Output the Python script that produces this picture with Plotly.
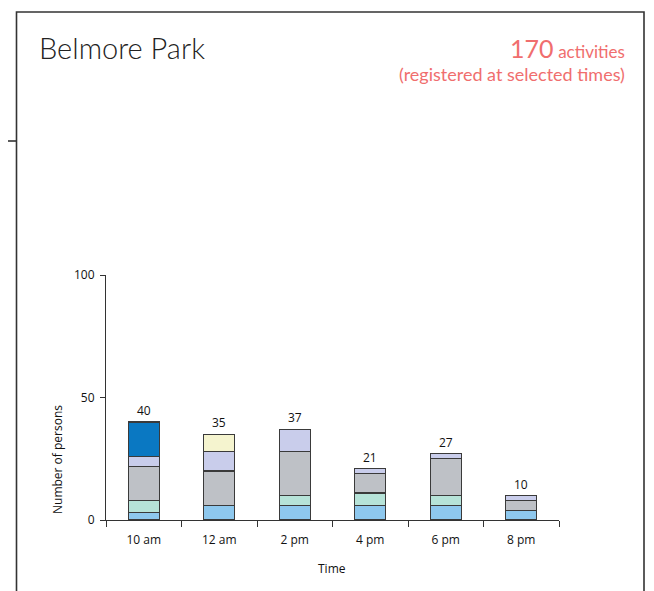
import plotly.graph_objects as go

# ---- data ----
times = ["10 am", "12 am", "2 pm", "4 pm", "6 pm", "8 pm"]
light_blue = [3, 6, 6, 6, 6, 4]
teal = [5, 0, 4, 5, 4, 0]
grey = [14, 14, 18, 8, 15, 4]
lavender = [4, 8, 9, 2, 2, 2]
yellow = [0, 7, 0, 0, 0, 0]
dark_blue = [14, 0, 0, 0, 0, 0]
series_names = ["Group 1", "Group 2", "Group 3", "Group 4", "Group 5", "Group 6"]
y_ticks = [0, 50, 100]
title_text = "Belmore Park"
total_activities = 170

series = [light_blue, teal, grey, lavender, yellow, dark_blue]
colors = ["#8EC8EE", "#B6E3D8", "#BEC1C6", "#C9CDEB", "#F5F4CF", "#0A78C2"]
totals = [sum(v) for v in zip(*series)]

W, H = 654, 591
OFF = 8  # page body margin offset
L, R, T, B = 106 - OFF, 559 - OFF, 275 - OFF, 520 - OFF  # plot area in figure pixels


def px(x):
    x -= OFF
    return (x - L) / (R - L)


def py(y):
    y -= OFF
    return (B - y) / (B - T)


fig = go.Figure()
for name, vals, col in zip(series_names, series, colors):
    fig.add_trace(go.Bar(
        x=times, y=vals, name=name, width=0.41,
        marker=dict(color=col, line=dict(color="#3a3a3a", width=1.2)),
        hoverinfo="x+y+name",
    ))

annotations = []
for t, tot in zip(times, totals):
    annotations.append(dict(x=t, y=tot, xref="x", yref="y", text=str(tot),
                            showarrow=False, yanchor="bottom", yshift=1,
                            font=dict(family="Open Sans", size=12, color="#111")))

annotations += [
    dict(x=px(37), y=py(47), xref="paper", yref="paper", text=title_text,
         showarrow=False, xanchor="left", yanchor="middle",
         font=dict(family="Lato", size=29, color="#222", weight=300)),
    dict(x=px(627), y=py(59), xref="paper", yref="paper",
         text=(f"<span style='font-size:25px'>{total_activities}</span> "
               "<span style='font-size:17px'>activities</span><br>"
               "(registered at selected times)"),
         showarrow=False, xanchor="right", yanchor="middle", align="right",
         font=dict(family="Lato", size=18, color="#F06E6E")),
    dict(x=px(57), y=py(460), xref="paper", yref="paper", text="Number of persons",
         showarrow=False, textangle=-90, xanchor="center", yanchor="middle",
         font=dict(family="Open Sans", size=12, color="#111")),
    dict(x=px(332), y=py(568), xref="paper", yref="paper", text="Time",
         showarrow=False, xanchor="center", yanchor="middle",
         font=dict(family="Open Sans", size=12, color="#111")),
]

line = dict(color="#333", width=1.6)
shapes = [
    dict(type="rect", xref="paper", yref="paper", x0=px(16.5), x1=px(644), y0=py(12), y1=py(620),
         line=line, fillcolor="rgba(0,0,0,0)", layer="above"),
    dict(type="line", xref="paper", yref="paper", x0=px(-2), x1=px(16.5), y0=py(141), y1=py(141), line=line),
]

fig.update_layout(
    width=W, height=H,
    margin=dict(l=L, r=W - R, t=T, b=H - B, pad=0),
    barmode="stack",
    showlegend=False,
    plot_bgcolor="white", paper_bgcolor="white",
    annotations=annotations,
    shapes=shapes,
    xaxis=dict(type="category", showline=True, linecolor="#333", linewidth=1,
               ticks="outside", tickson="boundaries", ticklen=6, tickcolor="#333",
               ticklabelstandoff=9,
               showgrid=False, zeroline=False,
               tickfont=dict(family="Open Sans", size=12, color="#111")),
    yaxis=dict(range=[0, 100], tickvals=y_ticks, showline=True, linecolor="#333",
               linewidth=1, ticks="outside", ticklen=5, tickcolor="#333",
               ticklabelstandoff=3,
               showgrid=False, zeroline=False,
               tickfont=dict(family="Open Sans", size=12, color="#111")),
)

fig.write_html("out.html")
